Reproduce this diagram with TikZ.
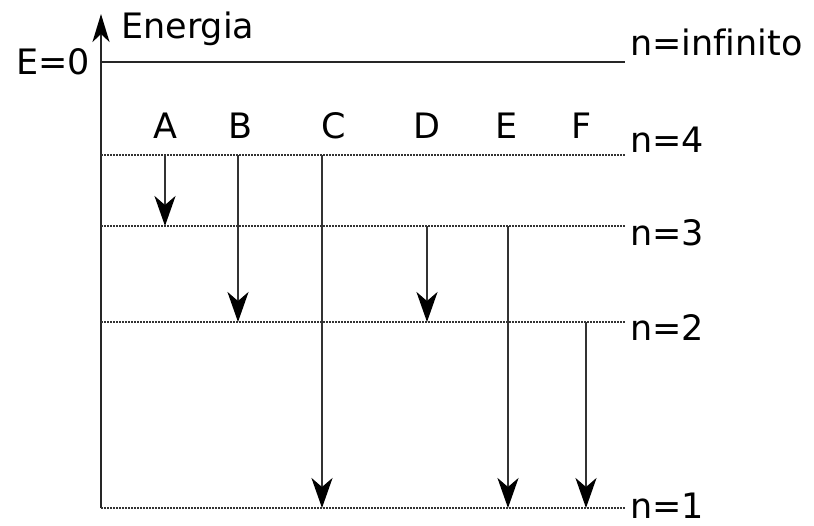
\documentclass[tikz,border=0pt]{standalone}
\usepackage{fontspec}
\setmainfont{DejaVu Sans}[Ligatures=NoCommon]
\usetikzlibrary{arrows.meta}
\begin{document}
\begin{tikzpicture}[x=1pt,y=-1pt,
  lbl/.style={font=\fontsize{35}{38}\selectfont, inner sep=0pt},
  level/.style={line width=1.8pt, black!80, dash pattern=on 1.5pt off 1.5pt},
  trans/.style={line width=2.6pt, black!80, -{Stealth[length=30pt,width=21pt,inset=9pt,black]}},
  axis/.style={line width=2.6pt, black!85}]
\useasboundingbox (0,0) rectangle (814,525);
% coordinates
\coordinate (o) at (101,508);
\coordinate (top) at (101,14);
\coordinate (z0) at (101,62);  \coordinate (z1) at (625,62);
\coordinate (l4a) at (101,155); \coordinate (l4b) at (625,155);
\coordinate (l3a) at (101,226); \coordinate (l3b) at (625,226);
\coordinate (l2a) at (101,322); \coordinate (l2b) at (625,322);
\coordinate (l1a) at (101,508); \coordinate (l1b) at (625,508);
% axis
\draw[axis, -{Stealth[length=28pt,width=17pt,inset=8pt,black]}] (o) -- (top);
\draw[line width=2.2pt, black!85] (z0) -- (z1);
\draw[level] (l4a) -- (l4b);
\draw[level] (l3a) -- (l3b);
\draw[level] (l2a) -- (l2b);
\draw[level] (l1a) -- (l1b);
% labels
\node[lbl, anchor=base west] (en) at (121,38) {Energia};
\node[lbl, anchor=base east] (e0) at (90,74) {E=0};
\node[lbl, anchor=base west] (ninf) at (630,55) {n=infinito};
\node[lbl, anchor=base west] (n4) at (630,152) {n=4};
\node[lbl, anchor=base west] (n3) at (630,245) {n=3};
\node[lbl, anchor=base west] (n2) at (630,340) {n=2};
\node[lbl, anchor=base west] (n1) at (630,518) {n=1};
\node[lbl, anchor=base] (A) at (165,138) {A};
\node[lbl, anchor=base] (B) at (241,138) {B};
\node[lbl, anchor=base] (C) at (334,138) {C};
\node[lbl, anchor=base] (D) at (427,138) {D};
\node[lbl, anchor=base] (E) at (507,138) {E};
\node[lbl, anchor=base] (F) at (582,138) {F};
% transitions
\coordinate (a1) at (165,155); \coordinate (a2) at (165,226);
\coordinate (b1) at (238,155); \coordinate (b2) at (238,322);
\coordinate (c1) at (322,155); \coordinate (c2) at (322,508);
\coordinate (d1) at (427,226); \coordinate (d2) at (427,322);
\coordinate (e1) at (508,226); \coordinate (e2) at (508,508);
\coordinate (f1) at (586,322); \coordinate (f2) at (586,508);
\draw[trans] (a1) -- (a2);
\draw[trans] (b1) -- (b2);
\draw[trans] (c1) -- (c2);
\draw[trans] (d1) -- (d2);
\draw[trans] (e1) -- (e2);
\draw[trans] (f1) -- (f2);
\end{tikzpicture}
\end{document}
